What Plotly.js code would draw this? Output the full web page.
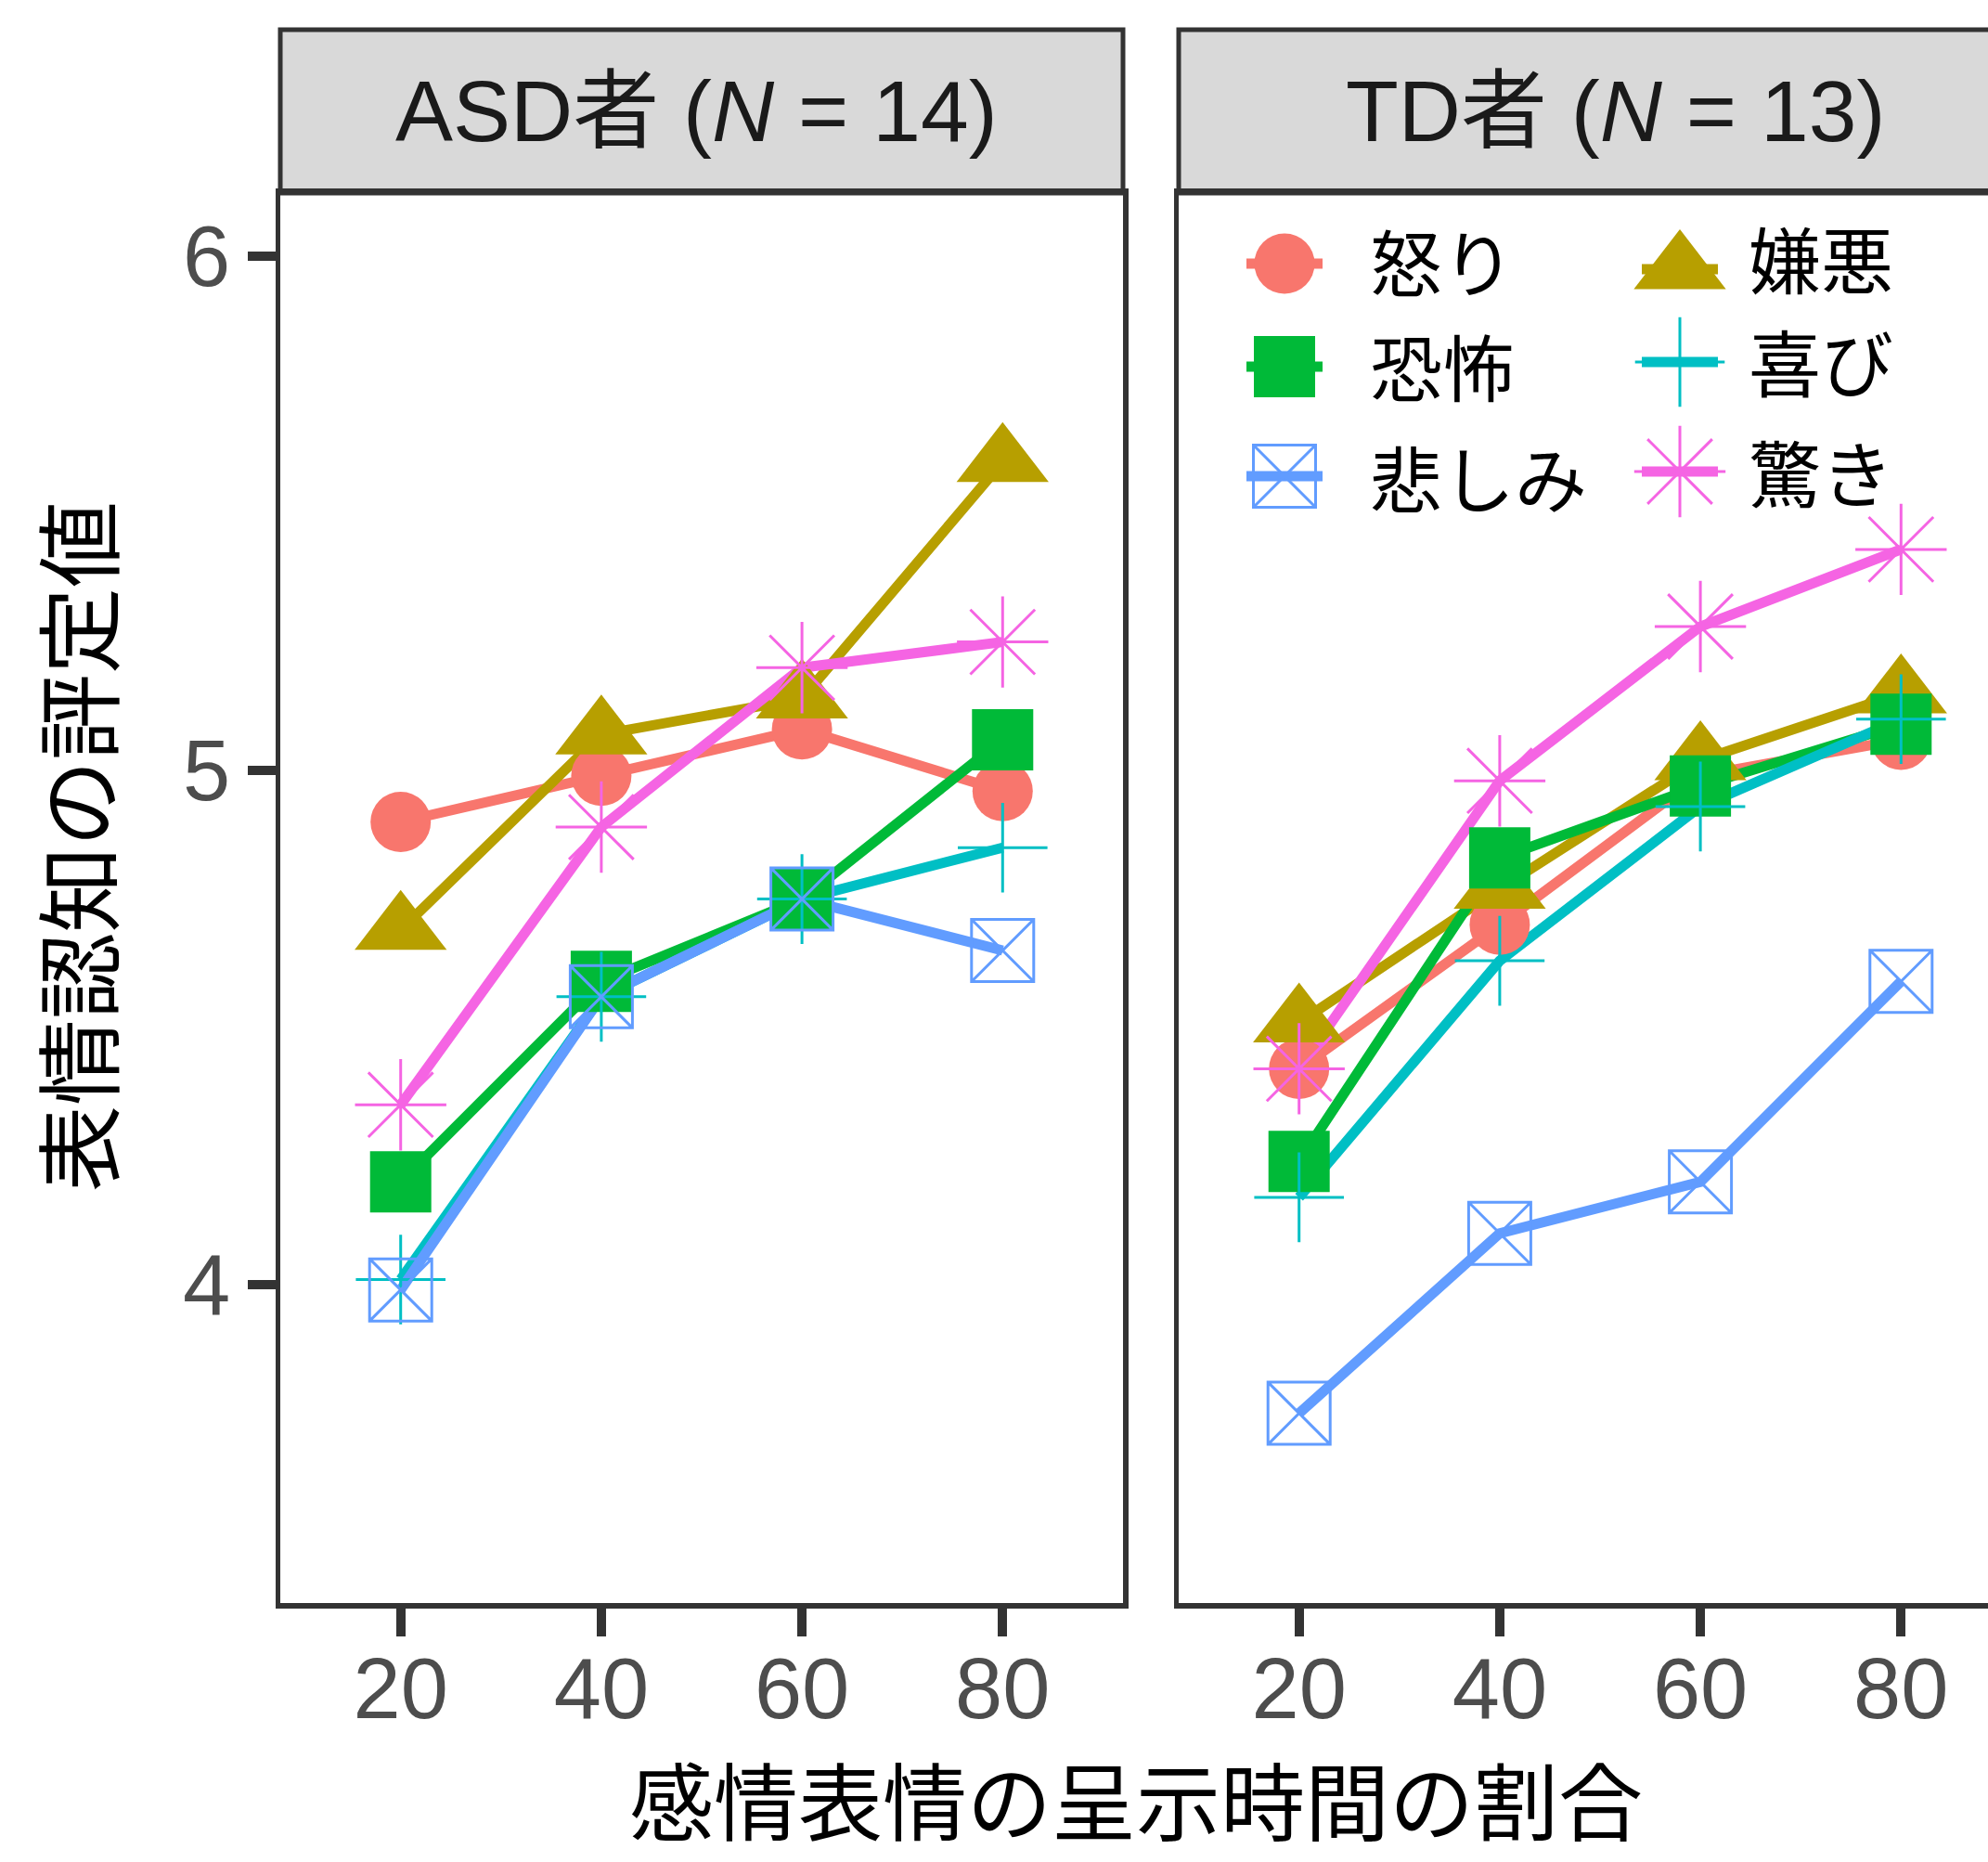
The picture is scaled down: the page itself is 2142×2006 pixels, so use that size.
<!DOCTYPE html>
<html>
<head>
<meta charset="utf-8">
<script src="https://cdn.plot.ly/plotly-3.0.1.min.js"></script>
<style>
html,body{margin:0;padding:0;background:#ffffff;overflow:hidden;}
#chart{width:2142px;height:2006px;}
</style>
</head>
<body>
<div id="chart"></div>
<script>
// ---------------- data ----------------
const pct = [20, 40, 60, 80];
const tickLabels = ['20', '40', '60', '80'];
const yTicks = [4, 5, 6];
const emotions = ['怒り', '嫌悪', '恐怖', '喜び', '悲しみ', '驚き'];
const panels = ['ASD者 (<i>N</i> = 14)', 'TD者 (<i>N</i> = 13)'];
const xTitle = '感情表情の呈示時間の割合';
const yTitle = '表情認知の評定値';

// ASD group
const asdAnger    = [4.90, 4.99, 5.08, 4.96];
const asdDisgust  = [4.69, 5.07, 5.14, 5.60];
const asdFear     = [4.20, 4.59, 4.75, 5.06];
const asdJoy      = [4.01, 4.56, 4.75, 4.85];
const asdSadness  = [3.99, 4.56, 4.75, 4.65];
const asdSurprise = [4.35, 4.89, 5.20, 5.25];
// TD group
const tdAnger    = [4.42, 4.70, 4.99, 5.06];
const tdDisgust  = [4.51, 4.77, 5.02, 5.15];
const tdFear     = [4.24, 4.83, 4.97, 5.09];
const tdJoy      = [4.17, 4.63, 4.93, 5.10];
const tdSadness  = [3.75, 4.10, 4.20, 4.59];
const tdSurprise = [4.42, 4.98, 5.28, 5.43];

const asdSeries = [asdAnger, asdDisgust, asdFear, asdJoy, asdSadness, asdSurprise];
const tdSeries  = [tdAnger, tdDisgust, tdFear, tdJoy, tdSadness, tdSurprise];

// ---------------- styles ----------------
const colors = ['#F8766D', '#B79F00', '#00BA38', '#00BFC4', '#619CFF', '#F564E3'];
const symbols = ['circle', 'triangle-up', 'square', 'cross-thin-open', 'square-x-open', 'asterisk-open'];
const sizes = [65, 86, 66, 69, 67, 82];
const openLine = [0, 0, 0, 3, 3, 3];
const LINE_W = 11;

// ---------------- geometry (pixels) ----------------
const W = 2142, H = 2006;
const P = {l1: 302, r1: 1210, l2: 1270, top: 208, bottom: 1727, stripTop: 32};
const X_RANGE_LEFT = [8, 92];
const PX_PER_UNIT = (P.r1 - P.l1) / (X_RANGE_LEFT[1] - X_RANGE_LEFT[0]);
const X_RANGE_RIGHT = [8, 8 + (W - P.l2) / PX_PER_UNIT];
const Y_RANGE = [3.381, 6.123];
const fx = p => p / W;
const fy = p => 1 - p / H;

const FONT_LATIN = 'Liberation Sans, Arial, Noto Sans CJK JP, sans-serif';
const FONT_CJK = 'Noto Sans CJK JP, sans-serif';

const traces = [];
const groups = [asdSeries, tdSeries];
const axes = [['x', 'y'], ['x2', 'y2']];

// lines first (as ggplot draws geom_line before geom_point)
groups.forEach((series, g) => {
  series.forEach((vals, i) => {
    traces.push({
      type: 'scatter', mode: 'lines', x: pct, y: vals,
      xaxis: axes[g][0], yaxis: axes[g][1],
      line: {color: colors[i], width: LINE_W},
      showlegend: false, hoverinfo: 'skip'
    });
  });
});
groups.forEach((series, g) => {
  series.forEach((vals, i) => {
    traces.push({
      type: 'scatter', mode: 'markers', x: pct, y: vals,
      xaxis: axes[g][0], yaxis: axes[g][1], name: emotions[i],
      marker: {symbol: symbols[i], size: sizes[i], color: colors[i],
               line: {color: colors[i], width: openLine[i]}},
      showlegend: false
    });
  });
});

// ---------------- manual legend (pixel axis x3/y3) ----------------
const LEG_COL_X = [1384, 1810];
const LEG_ROW_Y = [[284, 395, 513], [290, 390, 508]];
const LEG_TEXT_X = [1474, 1882];
const LEG_TEXT_Y = [[280, 393, 513], [277, 388, 507]];
const KEY_HALF = 41;
const annotations = [];
emotions.forEach((name, i) => {
  const col = i % 2, row = Math.floor(i / 2);
  const cx = LEG_COL_X[col], cy = LEG_ROW_Y[col][row];
  traces.push({
    type: 'scatter', mode: 'lines', x: [cx - KEY_HALF, cx + KEY_HALF], y: [cy, cy],
    xaxis: 'x3', yaxis: 'y3', line: {color: colors[i], width: LINE_W},
    showlegend: false, hoverinfo: 'skip', cliponaxis: false
  });
  traces.push({
    type: 'scatter', mode: 'markers', x: [cx], y: [cy],
    xaxis: 'x3', yaxis: 'y3',
    marker: {symbol: symbols[i], size: sizes[i], color: colors[i],
             line: {color: colors[i], width: openLine[i]}},
    showlegend: false, hoverinfo: 'skip', cliponaxis: false
  });
  annotations.push({
    xref: 'paper', yref: 'paper', x: fx(LEG_TEXT_X[col]), y: fy(LEG_TEXT_Y[col][row]),
    xanchor: 'left', yanchor: 'middle', showarrow: false, text: name,
    font: {family: FONT_CJK, size: 78, color: '#000000'}
  });
});

// strip labels
const stripCenters = [750, 1740];
panels.forEach((t, k) => {
  annotations.push({
    xref: 'paper', yref: 'paper', x: fx(stripCenters[k]), y: fy((P.stripTop + P.top) / 2),
    xanchor: 'center', yanchor: 'middle', showarrow: false, text: t,
    font: {family: FONT_LATIN, size: 93, color: '#1A1A1A'}
  });
});
// axis titles
annotations.push({
  xref: 'paper', yref: 'paper', x: fx(1224), y: fy(1936), xanchor: 'center', yanchor: 'middle',
  showarrow: false, text: xTitle, font: {family: FONT_CJK, size: 91, color: '#000000'}
});
annotations.push({
  xref: 'paper', yref: 'paper', x: fx(80), y: fy(912), xanchor: 'center', yanchor: 'middle',
  showarrow: false, text: yTitle, textangle: -90, font: {family: FONT_CJK, size: 93, color: '#000000'}
});

const axisCommon = {
  showline: true, linecolor: '#333333', linewidth: 5.5, mirror: true,
  showgrid: false, zeroline: false, fixedrange: true,
  tickfont: {family: FONT_LATIN, size: 92, color: '#4D4D4D'}
};

const shapes = [
  {type: 'rect', xref: 'paper', yref: 'paper', x0: fx(P.l1), x1: fx(P.r1), y0: fy(P.top), y1: fy(P.stripTop),
   fillcolor: '#D9D9D9', line: {color: '#333333', width: 5}, layer: 'below'},
  {type: 'rect', xref: 'paper', yref: 'paper', x0: fx(P.l2), x1: 1.05, y0: fy(P.top), y1: fy(P.stripTop),
   fillcolor: '#D9D9D9', line: {color: '#333333', width: 5}, layer: 'below'}
];

const layout = {
  width: W, height: H,
  margin: {l: 0, r: 0, t: 0, b: 0, pad: 0},
  paper_bgcolor: '#ffffff', plot_bgcolor: 'rgba(0,0,0,0)',
  showlegend: false,
  xaxis: Object.assign({}, axisCommon, {
    domain: [fx(P.l1), fx(P.r1)], range: X_RANGE_LEFT, anchor: 'y',
    tickmode: 'array', tickvals: pct, ticktext: tickLabels,
    ticks: 'outside', ticklen: 30, tickwidth: 10, tickcolor: '#333333',
    ticklabelstandoff: -22
  }),
  yaxis: Object.assign({}, axisCommon, {
    domain: [fy(P.bottom), fy(P.top)], range: Y_RANGE, anchor: 'x',
    tickmode: 'array', tickvals: yTicks, ticktext: yTicks.map(String),
    ticks: 'outside', ticklen: 30, tickwidth: 10, tickcolor: '#333333'
  }),
  xaxis2: Object.assign({}, axisCommon, {
    domain: [fx(P.l2), 1], range: X_RANGE_RIGHT, anchor: 'y2',
    tickmode: 'array', tickvals: pct, ticktext: tickLabels,
    ticks: 'outside', ticklen: 30, tickwidth: 10, tickcolor: '#333333',
    ticklabelstandoff: -22
  }),
  yaxis2: Object.assign({}, axisCommon, {
    domain: [fy(P.bottom), fy(P.top)], range: Y_RANGE, anchor: 'x2',
    showticklabels: false, ticks: ''
  }),
  xaxis3: {domain: [0, 1], range: [0, W], anchor: 'y3', visible: false, fixedrange: true},
  yaxis3: {domain: [0, 1], range: [H, 0], anchor: 'x3', visible: false, fixedrange: true},
  shapes: shapes,
  annotations: annotations
};

Plotly.newPlot('chart', traces, layout, {displayModeBar: false, staticPlot: true});
</script>
</body>
</html>
